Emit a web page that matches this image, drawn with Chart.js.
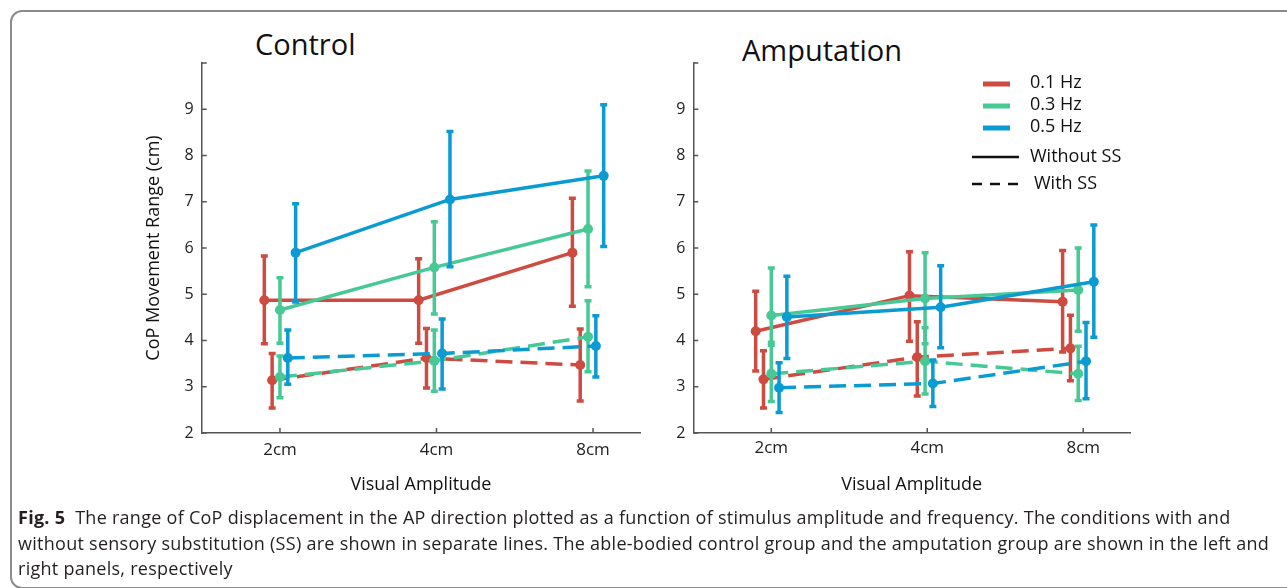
<!DOCTYPE html>
<html>
<head>
<meta charset="utf-8">
<script src="https://cdn.jsdelivr.net/npm/chart.js@4.4.1/dist/chart.umd.min.js"></script>
<style>
  html, body { margin: 0; padding: 0; background: #fff; width: 1287px; height: 588px; overflow: hidden; font-family: 'Open Sans', sans-serif; }
  .frame { position: absolute; left: 10px; top: 10px; width: 1320px; height: 575px; border: 2px solid #8c8c8c; border-radius: 12px; }
  .panel { position: absolute; }
  .ptitle { position: absolute; font-size: 29px; line-height: 1; color: #111; }
  .caption { position: absolute; left: 18px; top: 505px; font-size: 18px; letter-spacing: 0.27px; line-height: 25.5px; color: #231f20; white-space: nowrap; }
</style>
</head>
<body>
<div class="frame"></div>
<div class="ptitle" style="left:255px; top:29px;">Control</div>
<div class="ptitle" style="left:742px; top:35px;">Amputation</div>
<div class="panel" style="left:110px; top:20px;"><canvas id="control" width="545" height="495"></canvas></div>
<div class="panel" style="left:640px; top:20px;"><canvas id="amputation" width="505" height="495"></canvas></div>
<div class="caption"><b>Fig. 5</b>&nbsp; The range of CoP displacement in the AP direction plotted as a function of stimulus amplitude and frequency. The conditions with and<br>without sensory substitution (SS) are shown in separate lines. The able-bodied control group and the amputation group are shown in the left and<br>right panels, respectively</div>
<script>
Chart.defaults.font.family = "'Open Sans', sans-serif";
Chart.defaults.color = '#222';

const amplitudes = ['2cm', '4cm', '8cm'];
const freqLabels = ['0.1 Hz', '0.3 Hz', '0.5 Hz'];
const condLabels = ['Without SS', 'With SS'];

// Control group, mean and error bar ends (cm)
const ctrl01 = [4.87, 4.87, 5.90], ctrl01Hi = [5.86, 5.80, 7.11], ctrl01Lo = [3.90, 3.91, 4.71];
const ctrl03 = [4.66, 5.58, 6.41], ctrl03Hi = [5.39, 6.60, 7.70], ctrl03Lo = [3.91, 4.54, 5.13];
const ctrl05 = [5.90, 7.05, 7.56], ctrl05Hi = [6.99, 8.55, 9.13], ctrl05Lo = [4.80, 5.56, 6.00];
const ctrl01SS = [3.14, 3.62, 3.47], ctrl01SSHi = [3.75, 4.29, 4.28], ctrl01SSLo = [2.51, 2.94, 2.66];
const ctrl03SS = [3.21, 3.56, 4.08], ctrl03SSHi = [3.70, 4.26, 4.89], ctrl03SSLo = [2.73, 2.87, 3.29];
const ctrl05SS = [3.62, 3.72, 3.88], ctrl05SSHi = [4.26, 4.50, 4.57], ctrl05SSLo = [3.02, 2.92, 3.18];

// Amputation group
const amp01 = [4.20, 4.97, 4.84], amp01Hi = [5.10, 5.95, 5.98], amp01Lo = [3.31, 3.95, 3.72];
const amp03 = [4.54, 4.91, 5.09], amp03Hi = [5.60, 5.93, 6.03], amp03Lo = [3.93, 3.90, 4.17];
const amp05 = [4.51, 4.72, 5.27], amp05Hi = [5.42, 5.65, 6.53], amp05Lo = [3.58, 3.81, 4.04];
const amp01SS = [3.16, 3.64, 3.83], amp01SSHi = [3.81, 4.44, 4.58], amp01SSLo = [2.51, 2.77, 3.10];
const amp03SS = [3.28, 3.55, 3.28], amp03SSHi = [3.93, 4.31, 3.91], amp03SSLo = [2.65, 2.81, 2.67];
const amp05SS = [2.98, 3.07, 3.55], amp05SSHi = [3.55, 3.61, 4.42], amp05SSLo = [2.41, 2.54, 2.71];

const colors = ['#cd4b40', '#47c996', '#0a9bd2'];
// small horizontal dodge so the error bars don't overlap
const drift = [0, -0.014, -0.032];

function series(label, mean, hi, lo, color, dashed, offset) {
  return {
    label: label,
    data: mean.map((v, i) => ({ x: i + drift[i] + offset, y: v })),
    errHi: hi,
    errLo: lo,
    borderColor: color,
    backgroundColor: color,
    borderWidth: 3.5,
    borderDash: dashed ? [17, 8] : [],
    pointRadius: 5,
    pointHoverRadius: 5,
    pointBorderWidth: 0,
    tension: 0,
    fill: false
  };
}

const errorBars = {
  id: 'errorBars',
  beforeDatasetDraw(chart, args) {
    const ds = chart.data.datasets[args.index];
    const xs = chart.scales.x, ys = chart.scales.y;
    const ctx = chart.ctx;
    ctx.save();
    ctx.strokeStyle = ds.borderColor;
    ctx.lineWidth = 3.5;
    ctx.setLineDash([]);
    ds.data.forEach((p, i) => {
      const px = xs.getPixelForValue(p.x);
      const top = ys.getPixelForValue(ds.errHi[i]);
      const bot = ys.getPixelForValue(ds.errLo[i]);
      ctx.beginPath();
      ctx.moveTo(px, top); ctx.lineTo(px, bot);
      ctx.moveTo(px - 3.5, top + 1.5); ctx.lineTo(px + 3.5, top + 1.5);
      ctx.moveTo(px - 3.5, bot - 1.5); ctx.lineTo(px + 3.5, bot - 1.5);
      ctx.stroke();
    });
    ctx.restore();
  }
};

// tick marks drawn inside the axes
const innerTicks = {
  id: 'innerTicks',
  beforeDatasetsDraw(chart) {
    const { ctx, chartArea } = chart;
    const xs = chart.scales.x, ys = chart.scales.y;
    ctx.save();
    ctx.strokeStyle = '#555';
    ctx.lineWidth = 1.5;
    ctx.beginPath();
    xs.ticks.forEach(t => {
      const px = xs.getPixelForValue(t.value);
      ctx.moveTo(px, chartArea.bottom); ctx.lineTo(px, chartArea.bottom - 5);
    });
    ys.ticks.forEach(t => {
      const py = ys.getPixelForValue(t.value);
      ctx.moveTo(chartArea.left, py); ctx.lineTo(chartArea.left + 5, py);
    });
    ctx.stroke();
    ctx.restore();
  }
};

const legendBox = {
  id: 'legendBox',
  afterDraw(chart) {
    const ctx = chart.ctx;
    ctx.save();
    ctx.font = "18px 'Open Sans', sans-serif";
    ctx.fillStyle = '#111';
    ctx.textBaseline = 'middle';
    const rowsY = [64, 86, 108];
    freqLabels.forEach((lab, i) => {
      ctx.fillStyle = colors[i];
      ctx.fillRect(343, rowsY[i] - 2.5, 27, 5);
      ctx.fillStyle = '#111';
      ctx.fillText(lab, 390, rowsY[i] - 1);
    });
    ctx.strokeStyle = '#111';
    ctx.lineWidth = 2.5;
    ctx.beginPath(); ctx.moveTo(332, 137); ctx.lineTo(379, 137); ctx.stroke();
    ctx.fillText(condLabels[0], 390, 137);
    ctx.setLineDash([10, 8]);
    ctx.beginPath(); ctx.moveTo(332, 164); ctx.lineTo(379, 164); ctx.stroke();
    ctx.fillText(condLabels[1], 394, 164);
    ctx.restore();
  }
};

function makePanel(id, sets, yWidth, yTitle, tickPad, extraPlugins) {
  return new Chart(document.getElementById(id), {
    type: 'line',
    data: { datasets: sets },
    options: {
      responsive: false,
      animation: false,
      layout: { padding: { top: 43, right: 15, left: 0, bottom: 0 } },
      plugins: { legend: { display: false }, tooltip: { enabled: false } },
      scales: {
        x: {
          type: 'linear',
          min: -0.5,
          max: 2.3,
          afterBuildTicks: s => { s.ticks = amplitudes.map((a, i) => ({ value: i })); },
          afterFit: s => { s.height = 82; },
          ticks: { padding: tickPad, color: '#222', font: { size: 17 }, callback: v => amplitudes[v] ?? '' },
          grid: { display: false, drawTicks: false },
          border: { color: '#555', width: 1.5 },
          title: { display: true, text: 'Visual Amplitude', color: '#111', font: { size: 18 }, padding: { top: 0, bottom: 19 } }
        },
        y: {
          min: 2,
          max: 10,
          afterFit: s => { s.width = yWidth; },
          ticks: { stepSize: 1, padding: 8, color: '#222', font: { size: 16 }, callback: v => (v === 10 ? '' : v) },
          grid: { display: false, drawTicks: false },
          border: { color: '#555', width: 1.5 },
          title: { display: !!yTitle, text: yTitle, color: '#111', font: { size: 18 }, padding: { top: 33, bottom: 0 } }
        }
      }
    },
    plugins: [innerTicks, errorBars].concat(extraPlugins)
  });
}

const controlChart = makePanel('control', [
  series('0.5 Hz without SS', ctrl05, ctrl05Hi, ctrl05Lo, colors[2], false, 0.10),
  series('0.3 Hz without SS', ctrl03, ctrl03Hi, ctrl03Lo, colors[1], false, 0),
  series('0.1 Hz without SS', ctrl01, ctrl01Hi, ctrl01Lo, colors[0], false, -0.10),
  series('0.5 Hz with SS', ctrl05SS, ctrl05SSHi, ctrl05SSLo, colors[2], true, 0.05),
  series('0.3 Hz with SS', ctrl03SS, ctrl03SSHi, ctrl03SSLo, colors[1], true, 0),
  series('0.1 Hz with SS', ctrl01SS, ctrl01SSHi, ctrl01SSLo, colors[0], true, -0.05)
], 91.7, 'CoP Movement Range (cm)', 7, []);

const ampChart = makePanel('amputation', [
  series('0.5 Hz without SS', amp05, amp05Hi, amp05Lo, colors[2], false, 0.10),
  series('0.3 Hz without SS', amp03, amp03Hi, amp03Lo, colors[1], false, 0),
  series('0.1 Hz without SS', amp01, amp01Hi, amp01Lo, colors[0], false, -0.10),
  series('0.5 Hz with SS', amp05SS, amp05SSHi, amp05SSLo, colors[2], true, 0.05),
  series('0.3 Hz with SS', amp03SS, amp03SSHi, amp03SSLo, colors[1], true, 0),
  series('0.1 Hz with SS', amp01SS, amp01SSHi, amp01SSLo, colors[0], true, -0.05)
], 53.3, '', 5, [legendBox]);
</script>
</body>
</html>
